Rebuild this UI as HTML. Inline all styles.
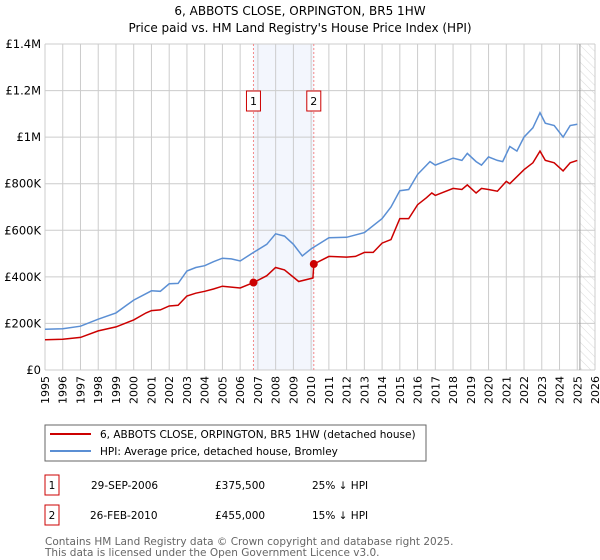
<!DOCTYPE html>
<html><head><meta charset="utf-8"><style>
body{margin:0;background:#fff;}
svg{display:block;font-family:"DejaVu Sans","Liberation Sans",sans-serif;}
</style></head><body>
<svg id="chart" width="600" height="560" viewBox="0 0 600 560">
<defs><pattern id="hatch" width="6" height="6" patternUnits="userSpaceOnUse" patternTransform="rotate(-45)"><line x1="0" y1="0" x2="0" y2="6" stroke="#ccc" stroke-width="0.7"/></pattern></defs>
<text x="300" y="15" text-anchor="middle" font-size="12">6, ABBOTS CLOSE, ORPINGTON, BR5 1HW</text>
<text x="300" y="32" text-anchor="middle" font-size="12">Price paid vs. HM Land Registry's House Price Index (HPI)</text>
<g id="plot"></g>
<rect x="45" y="425" width="381" height="36" fill="#fff" stroke="#666"/>
<line x1="50" y1="434" x2="91" y2="434" stroke="#cc0000" stroke-width="2"/>
<text x="100" y="438" font-size="10.5">6, ABBOTS CLOSE, ORPINGTON, BR5 1HW (detached house)</text>
<line x1="50" y1="451" x2="91" y2="451" stroke="#5b8fd4" stroke-width="2"/>
<text x="100" y="455" font-size="10.5">HPI: Average price, detached house, Bromley</text>
<g>
<rect x="45" y="475" width="14" height="20" fill="#fff" stroke="#cc0000"/>
<text x="52" y="489" font-size="10.5" text-anchor="middle">1</text>
<text x="91" y="489" font-size="10.5">29-SEP-2006</text>
<text x="215" y="489" font-size="10.5">£375,500</text>
<text x="312" y="489" font-size="10.5">25% ↓ HPI</text></g>
<g>
<rect x="45" y="505" width="14" height="20" fill="#fff" stroke="#cc0000"/>
<text x="52" y="519" font-size="10.5" text-anchor="middle">2</text>
<text x="90" y="519" font-size="10.5">26-FEB-2010</text>
<text x="215" y="519" font-size="10.5">£455,000</text>
<text x="312" y="519" font-size="10.5">15% ↓ HPI</text></g>
<text x="45" y="545" font-size="10.5" fill="#666">Contains HM Land Registry data © Crown copyright and database right 2025.</text>
<text x="45" y="556" font-size="10.5" fill="#666">This data is licensed under the Open Government Licence v3.0.</text>
</svg>
<script>
const hpiYears=[1995,1996,1997,1998,1999,2000,2001,2001.5,2002,2002.5,2003,2003.5,2004,2004.5,2005,2005.5,2006,2006.75,2007.5,2008,2008.5,2009,2009.5,2010,2011,2012,2013,2014,2014.5,2015,2015.5,2016,2016.7,2017,2018,2018.5,2018.8,2019.3,2019.6,2020,2020.5,2020.8,2021.2,2021.6,2022,2022.5,2022.9,2023.2,2023.7,2024.2,2024.6,2025];
const hpiValues=[175,177,188,218,245,300,340,338,370,372,425,440,448,465,480,477,468,505,540,585,575,540,490,520,568,570,590,650,700,770,775,840,895,880,910,900,930,895,880,915,900,895,960,940,1000,1040,1105,1060,1050,1000,1050,1055];
const ppYears=[1995,1996,1997,1998,1999,2000,2000.7,2001,2001.5,2002,2002.5,2003,2003.5,2004,2004.5,2005,2006,2006.75,2007.5,2008,2008.5,2009.3,2010.1,2010.15,2011,2012,2012.5,2013,2013.5,2014,2014.5,2015,2015.5,2016,2016.5,2016.8,2017,2018,2018.5,2018.8,2019.3,2019.6,2020,2020.5,2021,2021.2,2022,2022.5,2022.9,2023.2,2023.7,2024.2,2024.6,2025];
const ppValues=[130,132,140,168,185,215,245,255,258,275,278,318,330,338,348,360,352,375.5,405,440,430,380,395,455,488,485,488,505,505,545,560,650,650,710,740,760,750,780,775,795,760,780,775,768,810,800,860,890,940,900,890,855,890,900];
const saleYears=[2006.75,2010.15];
const saleValues=[375.5,455];
const saleLabels=["1","2"];
const yTicks=[0,200,400,600,800,1000,1200,1400];
const yTickLabels=["£0","£200K","£400K","£600K","£800K","£1M","£1.2M","£1.4M"];
const xTicks=[];for(let y=1995;y<=2026;y++)xTicks.push(y);
const X0=45,X1=595,Y0=370,Y1=44;
const xs=t=>X0+(t-1995)/(2026-1995)*(X1-X0);
const ys=v=>Y0-v/1400*(Y0-Y1);
const NS="http://www.w3.org/2000/svg";
const g=document.getElementById('plot');
function mk(tag,attrs,parent){const e=document.createElementNS(NS,tag);for(const k in attrs)e.setAttribute(k,attrs[k]);(parent||g).appendChild(e);return e;}
let e=mk('rect',{x:xs(2006.75),y:Y1,width:xs(2010.15)-xs(2006.75),height:Y0-Y1,fill:'#f3f6fd'});


e=mk('rect',{x:xs(2025.15),y:Y1,width:X1-xs(2025.15),height:Y0-Y1,fill:'url(#hatch)'});


xTicks.forEach(t=>{const l=mk('line',{x1:xs(t),x2:xs(t),y1:Y1,y2:Y0,stroke:'#ccc'});


const tx=mk('text',{x:0,y:0,'font-size':11,'text-anchor':'end',transform:`translate(${xs(t)+4},${Y0+6}) rotate(-90)`});tx.textContent=t;

});
yTicks.forEach((v,i)=>{const l=mk('line',{x1:X0,x2:X1,y1:ys(v),y2:ys(v),stroke:'#ccc'});


const tx=mk('text',{x:X0-4,y:ys(v)+4,'font-size':11.5,'text-anchor':'end'});tx.textContent=yTickLabels[i];

});
e=mk('line',{x1:xs(2025.15),x2:xs(2025.15),y1:Y1,y2:Y0,stroke:'#999','stroke-width':1});


saleYears.forEach((t,i)=>{const l=mk('line',{x1:xs(t),x2:xs(t),y1:Y1,y2:Y0,stroke:'#f38a8a','stroke-dasharray':'2,2'});


const r=mk('rect',{x:xs(t)-7,y:91,width:14,height:20,fill:'#fff',stroke:'#cc0000'});


const tx=mk('text',{x:xs(t)-3.5,y:105,'font-size':11});tx.textContent=saleLabels[i];

});
const path=(a,b)=>a.map((t,i)=>(i?'L':'M')+xs(t).toFixed(1)+','+ys(b[i]).toFixed(1)).join('');
e=mk('path',{d:path(hpiYears,hpiValues),fill:'none',stroke:'#5b8fd4','stroke-width':1.5});


e=mk('path',{d:path(ppYears,ppValues),fill:'none',stroke:'#cc0000','stroke-width':1.5});


saleYears.forEach((t,i)=>{const c=mk('circle',{cx:xs(t),cy:ys(saleValues[i]),r:4,fill:'#cc0000'});

});
</script>
</body></html>
